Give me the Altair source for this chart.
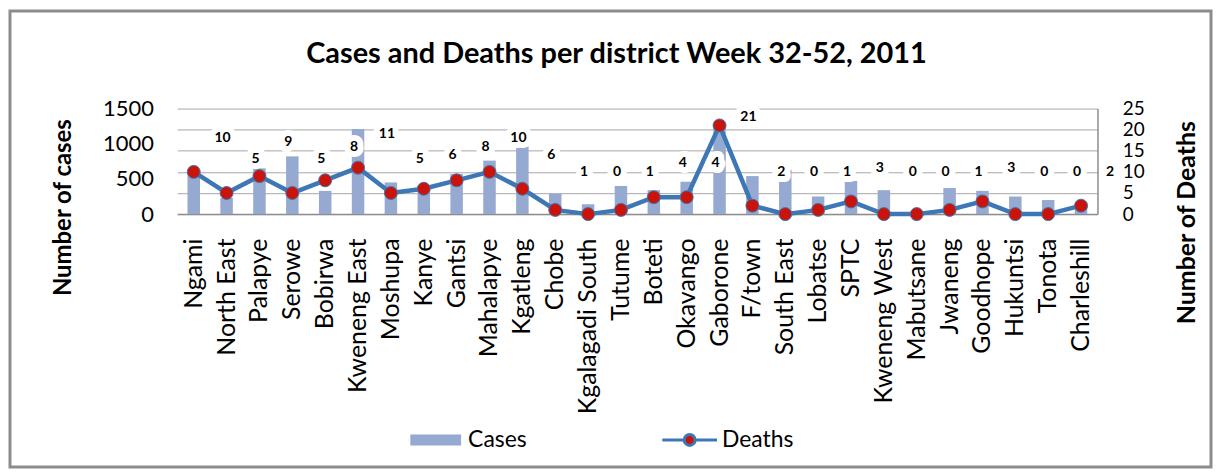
import altair as alt
import pandas as pd

title_text = "Cases and Deaths per district Week 32-52, 2011"
districts = ["Ngami", "North East", "Palapye", "Serowe", "Bobirwa", "Kweneng East",
             "Moshupa", "Kanye", "Gantsi", "Mahalapye", "Kgatleng", "Chobe",
             "Kgalagadi South", "Tutume", "Boteti", "Okavango", "Gaborone", "F/town",
             "South East", "Lobatse", "SPTC", "Kweneng West", "Mabutsane", "Jwaneng",
             "Goodhope", "Hukuntsi", "Tonota", "Charleshill"]
cases = [600, 230, 650, 820, 330, 1210, 450, 400, 570, 760, 960, 290,
         140, 400, 340, 460, 1270, 540, 630, 250, 470, 340, 30, 370,
         330, 250, 200, 160]
deaths = [10, 5, 9, 5, 8, 11, 5, 6, 8, 10, 6, 1,
          0, 1, 4, 4, 21, 2, 0, 1, 3, 0, 0, 1,
          3, 0, 0, 2]
series = ["Cases", "Deaths"]
cases_ticks = [0, 500, 1000, 1500]
deaths_ticks = [0, 5, 10, 15, 20, 25]

BAR = "#95A9D1"
LINE = "#3D77B5"
DOT = "#C8140A"
FONT = "Lato"

df = pd.DataFrame({"district": districts, "cases": cases, "deaths": deaths})

x_enc = alt.X(
    "district:N", sort=districts,
    scale=alt.Scale(paddingInner=0.62, paddingOuter=0.31),
    axis=alt.Axis(title=None, labelAngle=-90, labelFont=FONT, labelFontSize=25,
                  labelColor="black", labelPadding=24, labelLimit=400, ticks=False,
                  domainColor="#8C8C8C", domainWidth=1.5),
)

deaths_scale = alt.Scale(domain=[0, 25], nice=False)
deaths_axis = alt.Axis(
    orient="right", values=deaths_ticks, grid=True, gridColor="#A6A6A6",
    domainColor="#8C8C8C", domainWidth=1.5, ticks=False, labelFont=FONT,
    labelFontSize=19, labelColor="black", labelPadding=25,
    title="Number of Deaths", titleFont=FONT, titleFontSize=25,
    titleFontWeight="bold", titleColor="black", titleAngle=270,
    titleX=89, titleY=114, titleAlign="center", titleBaseline="middle",
)

base = alt.Chart(df)

bars = base.mark_bar(color=BAR).encode(
    x=x_enc,
    y=alt.Y("cases:Q", scale=alt.Scale(domain=[0, 1500], nice=False),
            axis=alt.Axis(orient="left", values=cases_ticks, format="d", grid=False,
                          domain=False, ticks=False,
                          labelFont=FONT, labelFontSize=22, labelColor="black",
                          labelPadding=24, title="Number of cases", titleFont=FONT,
                          titleFontSize=24, titleFontWeight="bold", titleColor="black",
                          titleAngle=270, titleX=-114, titleY=99, titleAlign="center",
                          titleBaseline="middle")),
)

line = base.mark_line(color=LINE, strokeWidth=4.5).encode(
    x=x_enc,
    y=alt.Y("deaths:Q", scale=deaths_scale, axis=deaths_axis),
)

points = base.mark_point(shape="circle", filled=True, fill=DOT, stroke=LINE,
                         strokeWidth=1, size=170, opacity=1).encode(
    x=x_enc,
    y=alt.Y("deaths:Q", scale=deaths_scale, axis=deaths_axis),
)

lab_base = base.transform_calculate(label_y="clamp(datum.deaths + 8, 10, 23)")
halo = lab_base.mark_text(font=FONT, fontWeight="bold", fontSize=14, dx=29,
                          color="white", stroke="white", strokeWidth=12,
                          strokeJoin="round", baseline="middle").encode(
    x=x_enc,
    y=alt.Y("label_y:Q", scale=deaths_scale, axis=deaths_axis),
    text=alt.Text("deaths:Q"),
)
labels = lab_base.mark_text(font=FONT, fontWeight="bold", fontSize=14, dx=29,
                            color="black", baseline="middle").encode(
    x=x_enc,
    y=alt.Y("label_y:Q", scale=deaths_scale, axis=deaths_axis),
    text=alt.Text("deaths:Q"),
)

inner = alt.layer(line, halo, labels, points)

frame = alt.Chart(alt.Data(values=[{"f": 1}])).mark_rect(
    fillOpacity=0, stroke="#8C8C8C", strokeWidth=3).encode(
    x=alt.value(-168), x2=alt.value(1038), y=alt.value(-98), y2=alt.value(360))

title = alt.Chart(alt.Data(values=[{"t": title_text}])).mark_text(
    font=FONT, fontWeight="bold", fontSize=29, color="black",
    align="center", baseline="alphabetic").encode(
    x=alt.value(441), y=alt.value(-46), text="t:N")

cases_path = "M-0.857,-0.143H0.857V0.143H-0.857Z"
deaths_path = ("M-0.98,0H-0.196M0.196,0H0.98M0.196,0A0.196,0.196,0,1,1,-0.196,0"
               "A0.196,0.196,0,1,1,0.196,0Z")
leg = alt.Legend(title=None, orient="none", legendX=230, legendY=303,
                 direction="horizontal", labelFont=FONT, labelFontSize=23,
                 labelColor="black", symbolSize=3136, symbolStrokeWidth=3,
                 labelOffset=3, columnPadding=130, symbolOpacity=1)
legend_layer = alt.Chart(pd.DataFrame({"series": series})).transform_filter(
    "false").mark_point(opacity=1, strokeWidth=3).encode(
    x=alt.value(0), y=alt.value(0),
    shape=alt.Shape("series:N", scale=alt.Scale(domain=series, range=[cases_path, deaths_path]), legend=leg),
    fill=alt.Fill("series:N", scale=alt.Scale(domain=series, range=[BAR, DOT]), legend=leg),
    stroke=alt.Stroke("series:N", scale=alt.Scale(domain=series, range=[BAR, LINE]), legend=leg),
)

chart = alt.layer(frame, title, bars, inner, legend_layer).resolve_scale(
    y="independent").properties(width=924, height=106, padding=0).configure_view(stroke=None)

chart.save("out.html", embed_options={"renderer": "svg", "actions": False})
